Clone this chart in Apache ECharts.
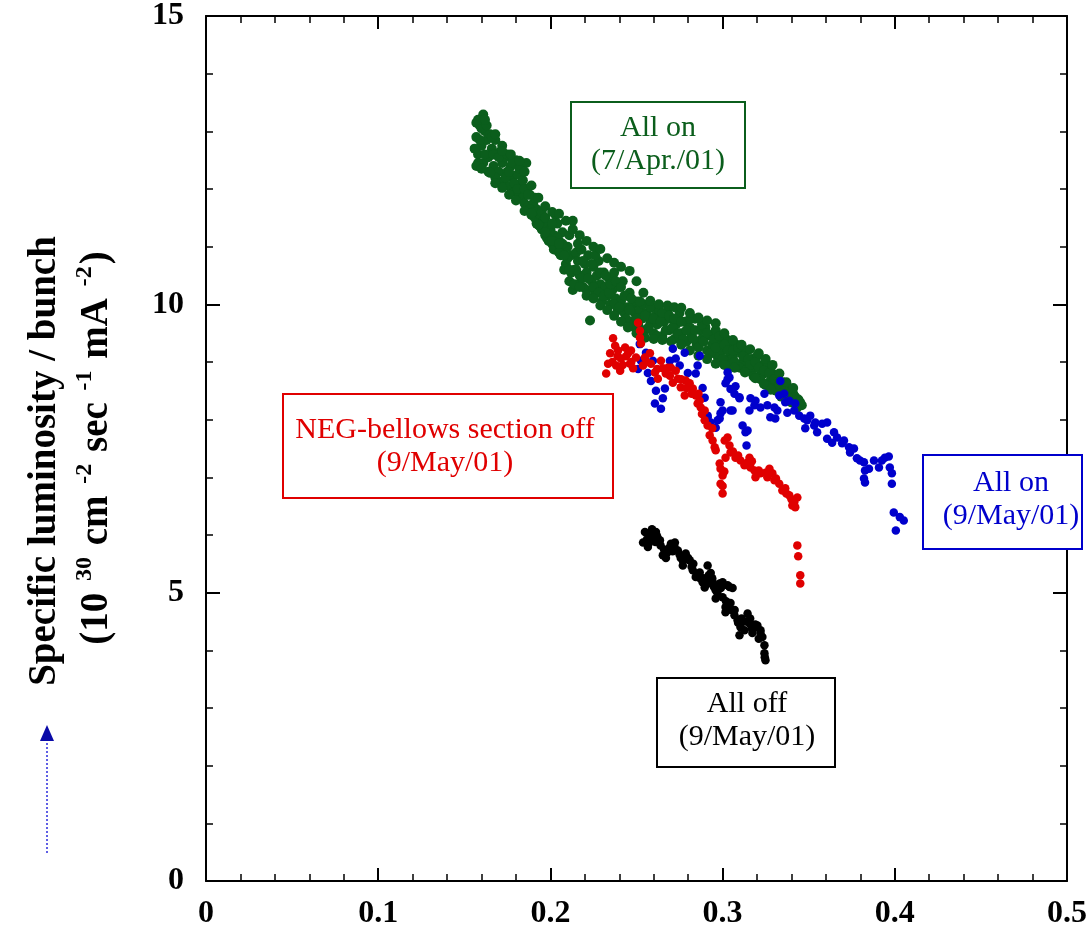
<!DOCTYPE html>
<html>
<head>
<meta charset="utf-8">
<script src="https://cdn.jsdelivr.net/npm/echarts@6/dist/echarts.min.js"></script>
<style>
html,body{margin:0;padding:0;background:#fff;}
#chart{width:1090px;height:930px;}
</style>
</head>
<body>
<div id="chart"></div>
<script>
// ---- tick labels ----
const xTickLabels = ['0', '0.1', '0.2', '0.3', '0.4', '0.5'];
const yTickLabels = ['0', '5', '10', '15'];

// ---- series: [beam current x, specific luminosity y] ----
const greenApr7 = [
[0.157,12.9],[0.158,12.6],[0.159,13.1],[0.160,12.75],[0.161,13.29],[0.161,12.45],[0.162,13.0],[0.163,12.85],[0.164,12.55],[0.165,12.95],
[0.166,12.7],[0.167,12.4],[0.168,12.85],[0.169,12.6],[0.170,12.3],[0.171,12.65],[0.172,12.45],[0.173,12.15],[0.174,12.55],[0.175,12.3],
[0.176,12.05],[0.177,12.4],[0.178,12.2],[0.179,11.95],[0.180,12.5],[0.181,12.25],[0.182,11.9],[0.183,12.1],[0.183,12.45],[0.184,11.85],[0.185,11.75],
[0.186,12.0],[0.186,12.45],[0.187,11.7],[0.188,11.9],[0.189,11.55],[0.190,11.75],[0.191,11.5],[0.192,11.65],[0.193,11.4],[0.194,11.55],[0.195,11.3],
[0.196,11.45],[0.197,11.2],[0.198,11.35],[0.199,11.1],[0.200,11.3],[0.201,11.05],[0.202,11.2],[0.203,10.95],[0.203,11.55],[0.204,11.4],[0.205,11.1],
[0.206,10.85],[0.207,11.25],[0.208,10.95],[0.209,10.7],[0.210,11.0],[0.211,10.4],[0.212,10.85],[0.213,11.45],[0.214,10.6],[0.215,10.9],
[0.216,10.75],[0.217,10.5],[0.218,10.95],[0.219,10.3],[0.220,10.7],[0.221,10.55],[0.222,10.85],[0.223,9.72],[0.224,10.4],[0.225,10.65],
[0.226,10.2],[0.227,10.5],[0.228,10.75],[0.229,10.35],[0.230,10.05],[0.231,10.55],[0.232,10.3],[0.233,10.15],[0.234,10.45],[0.235,10.0],
[0.236,10.25],[0.237,10.55],[0.238,10.1],[0.239,9.9],[0.240,10.3],[0.241,10.05],[0.242,10.4],[0.243,9.85],[0.244,10.15],[0.245,9.95],
[0.246,10.2],[0.247,9.7],[0.248,10.0],[0.249,9.85],[0.250,10.05],[0.251,9.65],[0.252,9.9],[0.253,9.75],[0.254,10.0],[0.255,9.55],
[0.256,9.85],[0.258,9.7],[0.259,9.95],[0.260,9.5],[0.261,9.8],[0.262,9.65],[0.263,9.9],[0.265,9.45],[0.266,9.7],[0.268,9.85],
[0.269,9.55],[0.270,9.75],[0.272,9.4],[0.273,9.65],[0.275,9.85],[0.276,9.5],[0.278,9.7],[0.279,9.35],[0.281,9.6],[0.282,9.45],
[0.284,9.75],[0.285,9.3],[0.287,9.55],[0.288,9.4],[0.290,9.6],[0.291,9.2],[0.293,9.45],[0.294,9.3],[0.296,9.55],[0.297,9.1],
[0.299,9.35],[0.300,9.2],[0.302,9.4],[0.303,9.05],[0.305,9.25],[0.306,9.1],[0.308,9.3],[0.309,8.95],[0.311,9.15],[0.312,9.0],
[0.314,9.2],[0.315,8.85],[0.317,9.05],[0.318,8.9],[0.320,9.1],[0.321,8.75],[0.323,8.95],[0.324,8.8],[0.326,8.95],[0.327,8.65],
[0.329,8.8],[0.330,8.6],[0.332,8.75],[0.333,8.5],[0.335,8.65],[0.336,8.45],[0.338,8.55],[0.339,8.4],[0.341,8.45],[0.342,8.3],
[0.344,8.35],[0.346,8.25],
[0.156,12.7],[0.157,13.15],[0.158,12.45],[0.159,12.85],[0.160,13.05],[0.162,12.6],[0.163,13.1],[0.164,12.3],[0.166,12.9],[0.167,12.6],
[0.168,12.2],[0.170,12.55],[0.171,12.1],[0.172,12.75],[0.174,12.2],[0.175,12.6],[0.176,12.3],[0.178,12.45],[0.179,12.1],[0.181,12.0],
[0.182,12.35],[0.184,12.15],[0.185,12.0],[0.187,11.9],[0.188,11.65],[0.190,11.6],[0.191,11.85],[0.192,11.4],[0.194,11.35],[0.195,11.6],
[0.197,11.5],[0.198,11.15],[0.200,11.1],[0.201,11.4],[0.202,10.95],[0.204,11.15],[0.205,10.9],[0.207,11.05],[0.208,10.6],[0.210,10.8],
[0.211,11.2],[0.212,10.55],[0.213,10.25],[0.215,10.6],[0.216,11.05],[0.218,10.45],[0.219,10.75],[0.221,10.25],[0.222,10.45],[0.224,10.7],
[0.225,10.3],[0.226,10.85],[0.228,10.2],[0.229,10.55],[0.231,10.15],[0.232,10.5],[0.234,10.2],[0.235,10.35],[0.237,10.0],[0.238,10.4],
[0.240,9.95],[0.241,10.3],[0.243,10.15],[0.244,9.75],[0.246,9.9],[0.247,10.1],[0.249,9.6],[0.250,9.75],[0.252,10.05],[0.253,9.55],
[0.255,9.8],[0.257,9.6],[0.258,9.95],[0.260,9.75],[0.262,9.45],[0.264,9.7],[0.265,9.85],[0.267,9.55],[0.269,9.8],[0.271,9.6],
[0.272,9.75],[0.274,9.5],[0.276,9.7],[0.277,9.4],[0.279,9.55],[0.281,9.75],[0.283,9.4],[0.284,9.55],[0.286,9.25],[0.288,9.65],
[0.289,9.35],[0.291,9.5],[0.293,9.15],[0.295,9.4],[0.296,9.25],[0.298,9.45],[0.300,9.05],[0.301,9.3],[0.303,9.2],[0.304,8.95],
[0.306,9.2],[0.307,9.0],[0.309,9.25],[0.310,8.9],[0.312,9.1],[0.313,8.85],[0.315,9.05],[0.316,8.95],[0.318,8.75],[0.319,9.0],
[0.321,8.9],[0.322,8.7],[0.324,8.85],[0.325,8.6],[0.327,8.8],[0.328,8.55],[0.330,8.7],[0.331,8.5],[0.333,8.6],[0.334,8.4],
[0.336,8.5],[0.337,8.35],[0.339,8.45],[0.340,8.3],[0.342,8.4],[0.343,8.25],[0.345,8.3],
[0.157,12.4],[0.160,12.35],[0.165,12.28],[0.168,12.1],[0.172,12.02],[0.176,11.9],[0.180,11.8],[0.185,11.62],[0.189,11.58],[0.193,11.38],
[0.197,11.25],[0.201,11.1],[0.205,11.05],[0.208,10.85],[0.211,10.6],[0.214,10.35],[0.217,10.3],[0.221,10.15],[0.225,10.1],[0.229,9.98],
[0.233,9.9],[0.237,9.8],[0.241,9.7],[0.245,9.6],[0.250,9.5],[0.255,9.42],[0.260,9.4],[0.265,9.38],[0.270,9.36],[0.276,9.3],
[0.281,9.2],[0.286,9.11],[0.291,9.05],[0.296,8.97],[0.301,8.95],[0.307,8.9],[0.313,8.82],[0.319,8.72],[0.324,8.62],[0.328,8.52],
[0.334,8.45],[0.338,8.38],[0.343,8.2],
[0.158,13.2],[0.162,13.2],[0.168,12.95],[0.172,12.66],[0.177,12.6],[0.182,12.49],[0.185,12.3],[0.189,12.06],[0.193,11.85],[0.197,11.7],
[0.201,11.6],[0.205,11.57],[0.209,11.45],[0.213,11.3],[0.217,11.2],[0.221,11.1],[0.225,11.0],[0.229,10.96],[0.233,10.8],[0.237,10.72],
[0.241,10.65],[0.246,10.58],[0.250,10.4],[0.254,10.2],[0.258,10.06],[0.263,10.0],[0.268,9.98],[0.272,9.95],[0.276,9.94],[0.281,9.85],
[0.286,9.77],[0.291,9.72],[0.296,9.67],[0.301,9.5],[0.306,9.38],[0.311,9.3],[0.316,9.22],[0.321,9.15],[0.325,9.05],[0.329,8.95],
[0.333,8.8],[0.337,8.65],[0.341,8.55]
];

const blueMay9 = [
[0.2519,9.31],[0.2526,9.02],[0.2509,8.88],[0.2566,8.81],[0.2584,8.67],[0.2613,8.50],[0.2607,8.28],[0.2642,8.19],[0.2653,8.37],[0.2665,8.54],
[0.2595,9.02],[0.2555,9.16],[0.2694,9.02],[0.2711,9.23],[0.2728,9.06],[0.2751,8.94],[0.2780,9.16],[0.2798,8.81],[0.2855,8.94],[0.2867,9.11],
[0.2844,8.80],[0.2884,8.55],[0.2896,8.38],[0.2913,8.04],[0.2960,7.86],[0.2983,8.02],[0.3000,8.16],[0.2988,8.30],[0.3017,8.63],[0.3040,8.73],
[0.3069,8.45],[0.3098,8.37],[0.3058,8.16],[0.3116,7.90],[0.3145,7.81],[0.3139,7.55],[0.3162,8.37],[0.3185,8.25],[0.3220,8.21],[0.3260,8.25],
[0.3277,8.04],[0.3243,8.45],[0.3318,8.16],[0.3335,8.67],[0.3358,8.45],[0.3387,8.33],[0.3416,8.16],[0.3445,8.07],[0.3491,7.99],[0.3480,7.85],
[0.3532,7.90],[0.3029,8.82],[0.3029,8.70],[0.3046,8.53],[0.3075,8.58],[0.3098,8.39],[0.2988,8.11],[0.2971,7.99],[0.2913,8.07],[0.2931,7.95],
[0.3046,8.16],[0.3133,7.78],[0.3156,8.16],[0.3191,8.33],[0.3301,8.21],[0.3306,8.02],[0.3329,8.42],[0.3376,8.12],[0.3364,8.30],[0.3422,8.28],
[0.3474,8.02],[0.3509,8.07],[0.3538,7.95],[0.3549,7.78],[0.3578,7.93],[0.3607,7.95],[0.3607,7.67],[0.3636,7.60],[0.3647,7.78],[0.3665,7.69],
[0.3694,7.59],[0.3705,7.64],[0.3734,7.52],[0.3740,7.43],[0.3763,7.50],[0.3780,7.33],[0.3798,7.29],[0.3821,7.26],[0.3827,7.12],[0.3821,6.98],
[0.3827,6.91],[0.3850,7.15],[0.3879,7.29],[0.3908,7.17],[0.3925,7.29],[0.3942,7.34],[0.3965,7.36],[0.3971,7.17],[0.3983,7.07],[0.3983,6.89],
[0.3994,6.39],[0.4029,6.31],[0.4052,6.25],[0.4006,6.08]
];

const redMay9 = [
[0.2509,9.68],[0.2520,9.54],[0.2520,9.42],[0.2526,9.32],[0.2364,9.41],[0.2376,9.28],[0.2347,9.15],[0.2335,8.97],[0.2324,8.80],[0.2393,9.20],
[0.2410,9.06],[0.2382,8.94],[0.2434,9.25],[0.2451,9.15],[0.2462,8.97],[0.2405,8.85],[0.2468,9.20],[0.2480,8.89],[0.2497,9.08],[0.2549,9.08],
[0.2538,8.94],[0.2578,9.15],[0.2584,8.97],[0.2607,8.82],[0.2624,8.71],[0.2642,9.02],[0.2653,8.89],[0.2682,8.90],[0.2694,8.76],[0.2711,8.64],
[0.2728,8.85],[0.2740,8.71],[0.2757,8.56],[0.2780,8.42],[0.2786,8.68],[0.2809,8.63],[0.2827,8.54],[0.2844,8.42],[0.2855,8.28],[0.2873,8.21],
[0.2867,8.33],[0.2896,8.16],[0.2896,7.99],[0.2913,7.90],[0.2925,7.73],[0.2942,7.64],[0.2954,7.52],[0.2960,7.47],[0.2983,7.24],[0.2988,7.15],
[0.3000,7.03],[0.2988,6.89],[0.3000,6.72],[0.3012,7.64],[0.3029,7.69],[0.3040,7.55],[0.3017,7.34],[0.3046,7.43],[0.3075,7.34],[0.3104,7.29],
[0.3127,7.21],[0.3156,7.34],[0.3162,7.17],[0.3185,7.12],[0.3191,7.00],[0.3220,7.07],[0.3249,7.08],[0.3272,7.15],[0.3289,7.07],[0.3301,6.95],
[0.3329,6.89],[0.3347,6.77],[0.3364,6.81],[0.3387,6.69],[0.3416,6.57],[0.3434,6.65],[0.3422,6.48],[0.3405,6.51],
[0.3434,5.82],[0.3439,5.63],[0.3451,5.30],[0.3451,5.16],
[0.236,9.0],[0.239,9.1],[0.242,8.95],[0.244,9.1],[0.247,9.0],[0.256,9.0],[0.262,8.88],[0.267,8.8],[0.270,8.9],[0.276,8.7],
[0.279,8.55],[0.282,8.45],[0.286,8.45],[0.288,8.1],[0.294,7.85],[0.306,7.45],[0.309,7.38],[0.314,7.25],[0.317,7.28],[0.321,7.12],
[0.326,7.0],[0.331,6.98],[0.337,6.72],[0.340,6.62],[0.301,7.1],[0.300,6.85]
];

const blackMay9 = [
[0.2549,6.05],[0.2538,5.87],[0.2566,5.79],[0.2584,5.96],[0.2613,6.05],[0.2636,5.91],[0.2653,5.65],[0.2671,5.60],[0.2694,5.79],[0.2723,5.87],
[0.2740,5.73],[0.2757,5.60],[0.2769,5.47],[0.2786,5.68],[0.2809,5.56],[0.2827,5.39],[0.2844,5.27],[0.2867,5.35],[0.2884,5.18],[0.2896,5.09],
[0.2913,5.47],[0.2931,5.34],[0.2942,5.18],[0.2960,5.04],[0.2960,4.90],[0.2983,5.16],[0.3000,5.18],[0.3029,5.13],[0.3058,5.08],[0.3000,4.92],
[0.3017,4.75],[0.3017,4.66],[0.3046,4.82],[0.3069,4.61],[0.3087,4.52],[0.3104,4.40],[0.3098,4.26],[0.3127,4.35],[0.3145,4.64],[0.3156,4.47],
[0.3173,4.30],[0.3185,4.40],[0.3202,4.43],[0.3220,4.35],[0.3231,4.23],[0.3243,4.09],[0.3243,3.95],[0.3249,3.83],
[0.256,5.92],[0.259,6.1],[0.262,5.98],[0.266,5.75],[0.270,5.85],[0.278,5.62],[0.283,5.5],[0.287,5.25],[0.292,5.3],[0.295,5.1],
[0.299,5.08],[0.305,4.7],[0.311,4.55],[0.316,4.55],[0.319,4.45],[0.321,4.2],[0.3245,3.88],[0.272,5.8],[0.2925,5.22],
[0.257,5.85],[0.258,6.0],[0.261,5.88],[0.264,5.82],[0.268,5.7],[0.271,5.72],[0.275,5.66],[0.277,5.55],[0.280,5.6],[0.282,5.45],
[0.285,5.33],[0.289,5.25],[0.291,5.15],[0.294,5.25],[0.297,5.0],[0.302,4.85],[0.304,5.1],[0.307,4.7],[0.309,4.48],[0.313,4.5],
[0.317,4.38],[0.322,4.3]
];

const C_GREEN = '#0b5e1c', C_BLUE = '#0000cc', C_RED = '#e00000', C_BLACK = '#000000';
const TICK_FONT = '"Liberation Serif", "Times New Roman", serif';

const chart = echarts.init(document.getElementById('chart'), null, {renderer: 'canvas'});

function xAxisCfg(pos, showLabel) {
  return {
    type: 'value', min: 0, max: 0.5, interval: 0.1, position: pos,
    axisLine: {show: true, onZero: false, lineStyle: {color: '#000', width: 2}},
    axisTick: {show: true, inside: true, length: 13, lineStyle: {color: '#000', width: 2}},
    minorTick: {show: true, splitNumber: 5, length: 7, lineStyle: {color: '#000', width: 1.5}},
    splitLine: {show: false}, minorSplitLine: {show: false},
    axisLabel: {
      show: showLabel, margin: 17, color: '#000', fontFamily: TICK_FONT, fontWeight: 'bold', fontSize: 32,
      showMinLabel: true, showMaxLabel: true,
      formatter: v => xTickLabels[Math.round(v / 0.1)]
    }
  };
}
function yAxisCfg(pos, showLabel) {
  return {
    type: 'value', min: 0, max: 15, interval: 5, position: pos,
    axisLine: {show: true, onZero: false, lineStyle: {color: '#000', width: 2}},
    axisTick: {show: true, inside: true, length: 14, lineStyle: {color: '#000', width: 2}},
    minorTick: {show: true, splitNumber: 5, length: 7, lineStyle: {color: '#000', width: 1.5}},
    splitLine: {show: false}, minorSplitLine: {show: false},
    axisLabel: {
      show: showLabel, margin: 22, color: '#000', fontFamily: TICK_FONT, fontWeight: 'bold', fontSize: 32,
      showMinLabel: true, showMaxLabel: true,
      formatter: v => yTickLabels[Math.round(v / 5)]
    }
  };
}

function scatter(name, data, color, size) {
  return {
    name, type: 'scatter', data, xAxisIndex: 0, yAxisIndex: 0,
    symbol: 'circle', symbolSize: size, silent: true,
    itemStyle: {color: color, opacity: 1}
  };
}

function box(x, y, w, h, color, lines, cx, cy) {
  return [
    {type: 'rect', shape: {x, y, width: w, height: h}, style: {fill: '#fff', stroke: color, lineWidth: 2}, z: 10},
    {type: 'text', x: cx, y: cy, z: 11,
      style: {text: lines.join('\n'), fill: color, font: '30px "Liberation Serif", serif',
        align: 'center', verticalAlign: 'middle', lineHeight: 33}}
  ];
}

const option = {
  animation: false,
  backgroundColor: '#fff',
  grid: {left: 206, right: 19, top: 15, bottom: 49, containLabel: false},
  xAxis: [xAxisCfg('bottom', true), xAxisCfg('top', false)],
  yAxis: [yAxisCfg('left', true), yAxisCfg('right', false)],
  series: [
    scatter('All on (7/Apr./01)', greenApr7, C_GREEN, 10),
    scatter('All on (9/May/01)', blueMay9, C_BLUE, 8.5),
    scatter('NEG-bellows section off (9/May/01)', redMay9, C_RED, 8.5),
    scatter('All off (9/May/01)', blackMay9, C_BLACK, 8.5)
  ],
  graphic: [
    {type: 'text', x: 45, y: 461, rotation: Math.PI / 2,
      style: {text: 'Specific luminosity / bunch', fill: '#000',
        font: 'bold 39px "Liberation Serif", serif', align: 'center', verticalAlign: 'middle'}},
    {type: 'text', x: 97, y: 448, rotation: Math.PI / 2,
      style: {text: '(10 {s|30} cm {s|-2} sec {s|-1} mA {s|-2})', fill: '#000',
        font: 'bold 39px "Liberation Serif", serif', align: 'center', verticalAlign: 'middle',
        rich: {s: {font: 'bold 24px "Liberation Serif", serif', fill: '#000', verticalAlign: 'top', padding: [0, 2, 24, 2]}}}},
    {type: 'line', shape: {x1: 47, y1: 853, x2: 47, y2: 740},
      style: {stroke: '#2b2bdd', lineWidth: 1.5, lineDash: [2, 2]}},
    {type: 'polygon', shape: {points: [[40, 741], [54, 741], [47, 725]]}, style: {fill: '#0a0aa8'}},
    ...box(571, 102, 174, 86, C_GREEN, ['All on', '(7/Apr./01)'], 658, 145),
    ...box(283, 394, 330, 104, C_RED, ['NEG-bellows section off', '(9/May/01)'], 445, 447),
    ...box(923, 455, 159, 94, C_BLUE, ['All on', '(9/May/01)'], 1011, 500),
    ...box(657, 678, 178, 89, C_BLACK, ['All off', '(9/May/01)'], 747, 721)
  ]
};
chart.setOption(option);
</script>
</body>
</html>
